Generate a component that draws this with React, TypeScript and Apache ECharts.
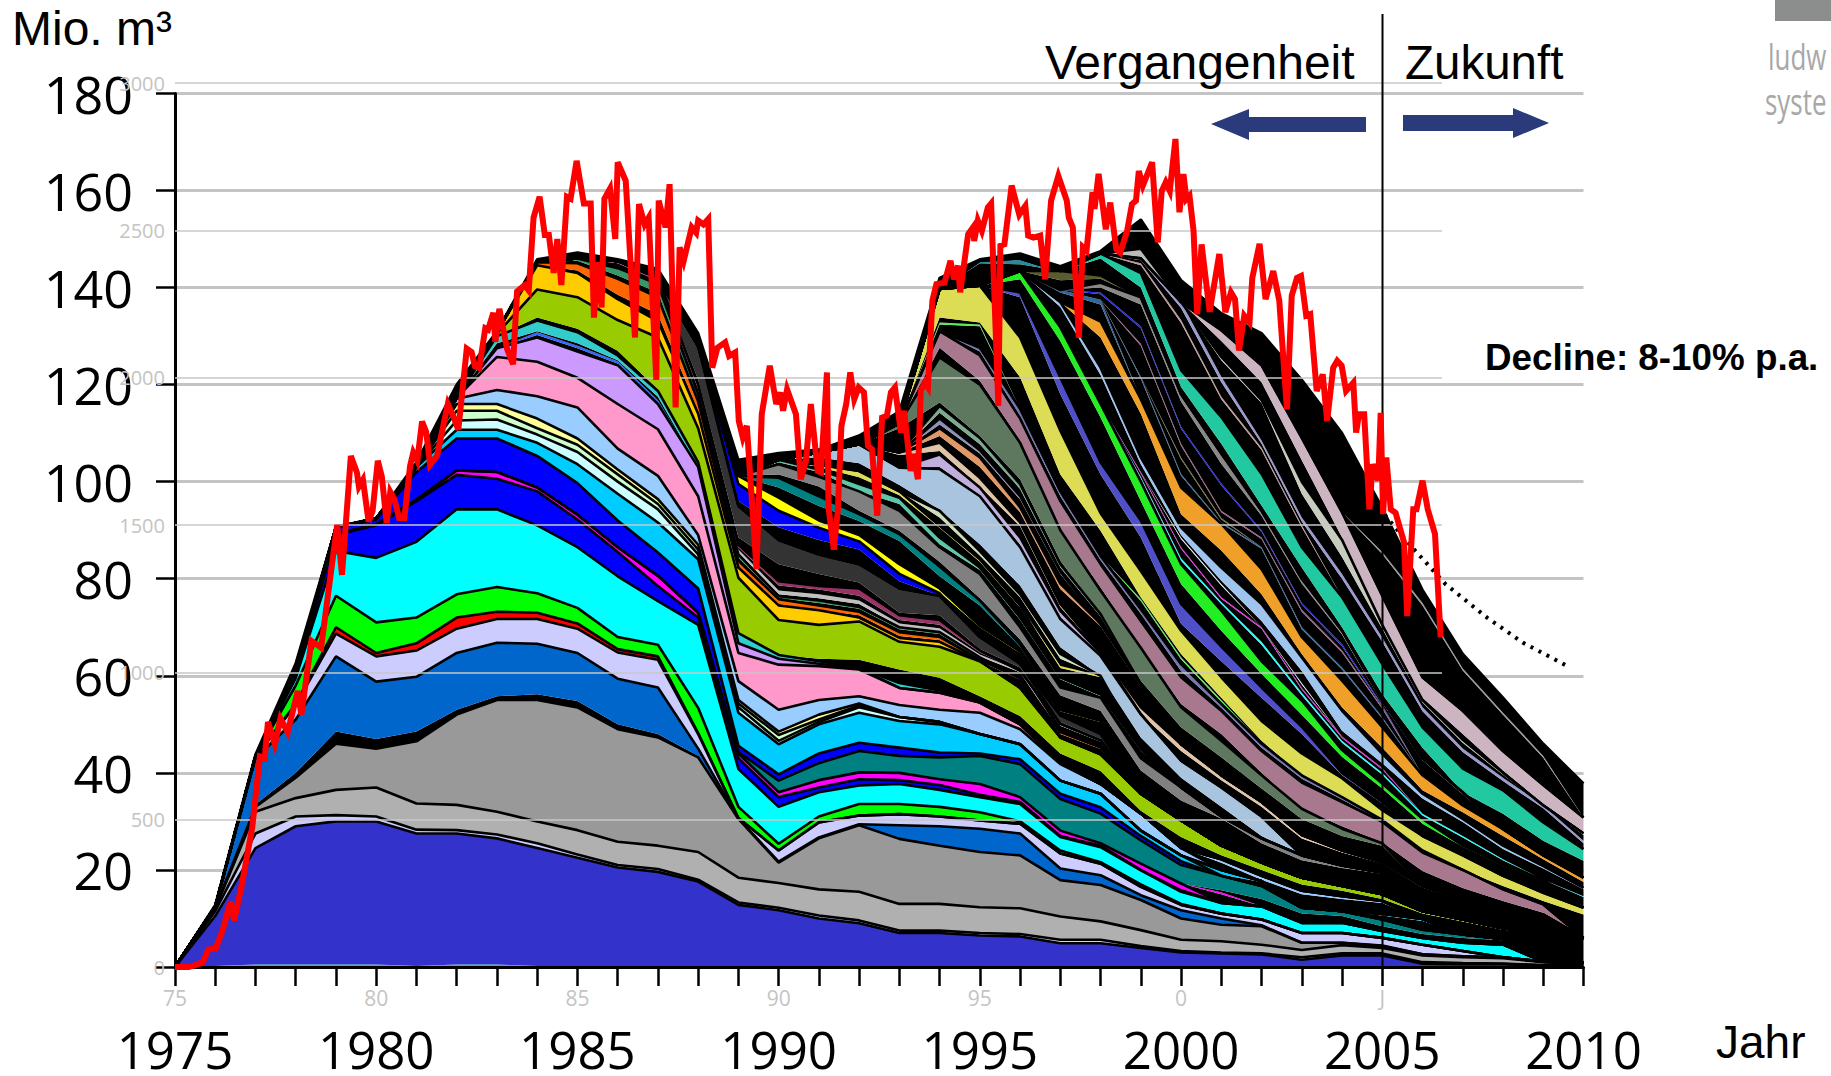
import React, { useEffect, useRef } from "react";
import * as echarts from "echarts";

const years = Array.from({ length: 36 }, (_, i) => 1975 + i);
const grayXLabels: Record<number, string> = { 1975: "75", 1980: "80", 1985: "85", 1990: "90", 1995: "95", 2000: "0", 2005: "J" };

// Upper (and where noted, lower) edges of each field in Mio. m3.
const tealBase = [0, .2, .5, .5, .5, .5, .2, .5, .5, .2];
const indigoA = [0, 10.5, 24.5, 29, 30, 30, 27.5, 27.5, 26.5, 24.5, 22.5, 20.5, 19.6, 17.6, 12.8, 11.7, 10, 9, 7, 7, 6.5, 6.3, 4.9, 4.9, 3.9, 3, 2.8, 2.6, 1.5, 2.4, 2.4, .7, .6, .6, .3, .3];
const lavThin = [0, 11.5, 27.5, 31, 31.3, 31, 28.3, 28.2, 27.3, 25.5, 23.2, 21, 20.2, 18, 13.3, 12.2, 10.6, 9.6, 7.5, 7.5, 7, 6.8, 5.6, 5.6, 4.3, 3.3, 3, 2.8, 2, 2.8, 2.8, 1, .8, .7, .4, .4];
const grayLight = [0, 12, 32, 34.8, 36.5, 37, 33.7, 33.4, 32, 30, 28.2, 25.8, 25, 23.7, 18.4, 17.3, 16, 15.5, 13, 13, 12.3, 12.1, 10.4, 9.4, 7.6, 5.6, 5.3, 4.6, 3.5, 4.5, 3.9, 2.4, 2, 1.8, 1, .8];
const grayMid = [0, 12.2, 33, 39, 46, 45, 46.5, 52, 55, 55, 53.5, 49, 47.3, 43.2, 30.5, 21.5, 26.5, 29.2, 26.4, 25, 23.7, 23, 17.9, 16.9, 13.8, 10, 8.7, 8.4, 5, 5, 4.3, 2.6, 2.2, 2, 1.1, .9];
const steelLow = [0, 12.3, 33.5, 40, 48.5, 47, 48.5, 53, 55.8, 56.2, 54.8, 50, 48, 43.5];
const steel = [0, 12.4, 43, 51, 64, 58.8, 59.8, 64.7, 66.8, 66.6, 64.7, 59.4, 57.6, 45, 30.6, 21.7, 26.7, 29.4, 29.2, 29, 28.5, 27.5, 20.3, 18.9, 14.8, 11.7, 10, 8.6, 5, 5, 4.4, 2.6, 2.2, 2, 1.1, .9];
const lavender = [0, 12.5, 43.4, 54, 68.7, 64, 65.2, 69.7, 71.7, 71.7, 69.7, 64.8, 63.3, 48, 30.7, 24, 29.8, 31.2, 31.5, 31, 30.2, 29.5, 23.4, 21.3, 16.5, 12.8, 11, 9.8, 7, 7, 6, 4.6, 3.3];
const redField = [0, 0, 0, 54.2, 70, 64.7, 66.7, 72, 73.2, 73, 70.8, 65.5, 64, 48.2];
const lime = [0, 0, 0, 58, 76.5, 71, 72, 76.8, 78.3, 77, 74, 68, 66.4, 53.4, 33, 25.4, 31, 33.6, 33.6, 33, 31.9, 30, 24, 21.6, 17, 13];
const cyanA = [0, 0, 0, 59.5, 85.7, 84.3, 87.6, 94.3, 94.3, 91, 86.5, 80.5, 75.4, 70.5, 40.8, 33, 36, 37.4, 37.7, 36.5, 35, 33.6, 26.8, 24.7, 19.9, 15.5, 13.2, 12.5, 9.1, 9.1, 7.4, 6, 5, 4.6];
const blueA = [0, 0, 0, 60, 89, 91, 96, 101.4, 100.6, 98, 92.2, 85.5, 78.5, 72, 43, 35, 37, 38.7, 38.5, 37.5, 35.5, 34, 27, 25, 20, 15.8];
const magentaA = [0, 0, 0, 60.2, 89.2, 91.2, 96.3, 102.3, 102, 98.8, 93.2, 86.5, 80.6, 73, 44, 36, 38.5, 40.1, 40, 38.7, 37.7, 35, 28.1, 25.5, 21.3, 17.2];
const magentaTail = [15.4];
const magentaTailLow = [15];
const tealA = [44.3, 38.4, 42, 44.5, 43.5, 43.2, 43.5, 41.8, 34.6, 31.6, 26.1, 21, 18.8, 16.7, 12.2, 11.5, 9.8, 7.7, 6.7, 5.8, 5];
const tealALow = [0, 0, 0, 0, 0, 0, 0, 0, 0, 0, 0, 0, 15.8, 14, 11, 10.5, 8.4, 6.8, 6, 5.5, 4.9];
const blueB = [0, 0, 0, 61.5, 90.5, 92.2, 102, 108.9, 108.9, 105.3, 99.7, 92, 85.4, 78, 45.6, 39.7, 44, 46.2, 45.2, 44.2, 44, 42.8, 35.7, 32.9, 27, 21.8];
const skyA = [0, 0, 0, 0, 90.6, 92.3, 103, 110.7, 110.7, 108, 103.6, 97.5, 91.6, 84, 52.4, 45.9, 50, 52.4, 50.7, 50, 48, 45.9, 38.4, 35.7, 28.1, 23];
const skyMid = [20, 17.7];
const skyMidLow = [19, 17.5];
const skyTail = [11, 9.9];
const skyTailLow = [10.6, 9.5];
const paleCyan = [112.6, 112.8, 109.7, 106.1, 100, 94.3, 85, 53.5, 46.6, 50.5, 53.5, 51.5, 50.5];
const paleGreen = [114.6, 114.6, 111, 107.6, 101.5, 95.4, 86, 54.3, 47.8, 51, 53.9];
const paleYellow = [116, 116, 113, 108.9, 102.5, 96.4, 87, 55, 48.5, 52, 54.3];
const lightBlueA = [0, 0, 0, 0, 90.6, 92.4, 103.2, 117.1, 118.9, 117.6, 115.3, 106.8, 101.2, 89, 58.9, 53, 55, 55.8, 54, 53, 52.4, 49, 41.8, 37.7, 31.6, 24.5];
const lightBlueTail = [22.2, 18.8, 15.7, 14.6, 13.6];
const lightBlueTailLow = [21.5, 18, 15, 14, 13.2];
const pink = [117.3, 125.7, 124.7, 121.4, 116, 110.8, 97, 64.7, 62.3, 62, 61.3, 57.5, 56.5, 54.5, 50, 42];
const violet = [127.5, 129.7, 126.8, 124, 116, 103, 66.7, 63.5, 62.5, 61.5];
const thinBlue = [130.8, 128, 124.8, 116.8];
const thinBlueLow = [130.2, 127.5, 124.3, 116.3];
const turquoise = [130, 133.2, 130.8, 126, 118.7, 104, 68.8, 64.3, 63, 61.6, 58.5, 57];
const turquoiseLow = [128.5, 131, 128.5, 125, 117.5];
const olive = [130.5, 139.6, 138, 133.3, 129.7, 111, 80.2, 71.5, 70.5, 71.2, 67, 66, 63, 57.5, 47.3, 43.8, 35.7, 30.2, 25, 21.5, 18.4, 16.7, 15, 11.5, 9.8, 8, 7, 6];
const oliveLow = [0, 133.8, 131.5, 127, 119, 104.5, 69, 64.3, 63.5, 63.3, 61.3, 59.6, 55.8, 51.7, 44, 40.4, 32.2, 26.8, 23, 20, 17, 15.7, 14, 11, 9.4, 7.7, 6.8, 5.8];
const gold = [130.8, 144.6, 143, 137.6, 133.1, 114, 82.3, 74.5, 73.5, 72, 67.8, 67];
const orangeA = [145.2, 145, 141.8, 138, 116.5, 83.7, 75.8, 74.5, 73.2, 69, 68, 63.3, 59.5];
const orangeALow = [0, 143.5, 138.5, 134.5, 114.5, 82.6, 74.8, 73.2, 72.5, 68.2, 67.3, 62.8, 59.2];
const orangeLate = [48.4, 45.2];
const orangeLateLow = [48, 44.9];
const seaGreen = [145.5, 146, 144, 140.7, 118, 85, 76.4, 75.5, 74.2, 70, 69, 63.8];
const seaGreenLow = [0, 145.5, 142.5, 139, 0, 84.3, 76, 75, 73.8, 69.6, 68.6, 63.5];
const silver = [86, 77.6, 76.8, 75.5, 70.8, 69.8, 64.4, 61];
const silverLow = [85.4, 76.8, 76, 74.8, 70.2, 69.2, 64, 60.7];
const silverLate = [50.1, 46.7];
const silverLateLow = [49.7, 46.4];
const plum = [145.5, 142, 120, 87, 79.5, 78.5, 78, 72.5, 71.5, 65.2];
const plumLow = [145, 141.4, 119, 86.5, 78.6, 77.8, 76.5, 71.5, 70.5, 64.8];
const charcoal = [128, 95, 88, 85, 83, 78, 76.5, 68, 62.5];
const charcoalLow = [121, 88.5, 83, 81, 79.2, 73, 72.5, 65.5, 61.7];
const charcoalLate = [51.8, 48];
const charcoalLateLow = [50.5, 47];
const yellowLate = [53, 50.8];
const yellowLateLow = [52.7, 50.5];
const blueC = [99.5, 94, 90.5, 87.7, 81, 77];
const blueCLow = [96, 90.6, 88, 86, 79.5, 76];
const yellow = [101.2, 96.7, 92, 89, 83, 78, 70.3, 65];
const yellowLow = [99.7, 94.2, 90.6, 87.8, 81.2, 77.2, 70, 64.7];
const tealB = [100.8, 97, 93.3, 89.2, 82.5, 75.5, 66.5];
const tealBLow = [98.8, 95, 91.9, 87.8, 80.5, 74.5, 66];
const grayDim = [103.6, 101, 98, 94, 86.5, 81, 70, 57.6, 55.5, 43, 37, 31, 26.5, 23, 20.9, 19.5];
const grayDimLow = [101.5, 99, 94, 89.9, 83.5, 76, 67.5, 56, 52.8, 40.5, 34.3, 30.6, 25.5, 22, 20.4, 19.2];
const jade = [104.5, 102.5, 99.5, 96.7, 88.5, 82.3, 72, 59.7, 56.2, 45];
const jadeLow = [104, 102, 98, 95.4, 87.1, 81.8, 71.5, 59.3, 55.8, 44.6];
const khakiThin = [103.5, 102.2, 98, 90.9, 84, 74.5];
const khakiThinLow = [103, 100.9, 97.2, 90.5, 83.5, 74.1];
const khakiLate = [62, 60];
const khakiLateLow = [61.6, 59.7];
const sage = [94, 85.7, 76.8, 64.5, 59];
const sageLow = [92.6, 84.8, 76.2, 63.5, 58.6];
const steelPale = [106, 107.7, 102.9, 102.6, 97, 86.5, 71.7, 64.1, 52.1, 42.5, 37, 31];
const steelPaleLow = [105, 103.8, 99.3, 94.2, 87.1, 78.6, 65.9, 59.2, 47.3, 39, 33, 27];
const lilac = [105.6, 98.8, 88.5, 73.4, 64.7];
const lilacLow = [103, 97.2, 87, 72, 64.4];
const tan = [106, 108, 100.8, 91.6, 74.8, 65, 53.5, 45.9, 39.5, 34, 27.2, 24, 21.6, 16.7, 14, 11.9, 10.8];
const tanLow = [105.5, 106.3, 99, 90.8, 74.2, 64.8, 51.5, 44.5, 38.5, 33, 26.5, 23.6, 21.3, 16.4, 13.8, 11.7, 10.6];
const copper = [111, 105, 94.7, 79, 70.7, 58.3];
const copperLow = [109.4, 103, 93.7, 77.9, 70.2, 57.9];
const slate = [113, 106.5, 97, 81.5];
const slateLow = [111.8, 105.8, 96.3, 81];
const mint = [115.6, 109, 99.5, 83, 72.7];
const mintLow = [114.2, 107.7, 98.5, 82.3, 72.2];
const moss = [112, 125.6, 120, 108, 90, 77.5, 65.8, 53.5, 46.6, 39.5, 32.6, 28.5, 25.5];
const mossLow = [111, 116.3, 109.4, 100.5, 83.7, 71.3, 59, 49.4, 43.2, 36.8, 30.5, 27, 25];
const mauve = [131, 126, 113, 96, 83, 71.3, 59.7, 52.8, 44.5, 38, 34, 29.9, 23.6, 20, 16, 12.9];
const mauveLow = [127.6, 120.8, 108.5, 89.2, 78.2, 65.8, 54.2, 48, 40, 32.6, 29, 25.7, 19.8, 16.3, 13.6, 11.2];
const dusk = [127.6, 115, 98, 84.7, 73.7, 62.4, 54.2, 46, 39.5, 35, 30.3, 24];
const duskLow = [126.8, 113.5, 97, 83.8, 72.8, 61, 53.4, 45.2, 38.8, 34.5, 30, 23.7];
const springThin = [132.8, 132.4];
const springThinLow = [132.4, 132];
const springLine = [75.8, 63.8, 55, 46.2];
const springLineLow = [75.4, 63.4, 54.6, 45.8];
const mustard = [139.7, 140.4, 129.7, 110.5, 93.5, 81.6, 69.3, 59.7, 50.7, 44, 38.9, 32.3, 27, 23, 18.8, 15.3, 12.2];
const mustardLow = [133.8, 132.8, 121.5, 101.5, 89.9, 76.2, 64.5, 55.5, 46.6, 39.5, 35, 30.5, 24, 20, 16.7, 13.6, 10.8];
const iris = [139, 121.5, 104, 92, 74.8, 66, 57.6, 49.5, 40, 34];
const irisLow = [138, 118, 101.5, 88.5, 70.7, 63, 55.5, 48, 39.5, 33.7];
const neon = [143.4, 131.8, 116, 100, 83, 73.4, 63, 54.9, 44.7, 37.8, 30.5, 25, 21, 18];
const neonLow = [141.7, 129, 113.2, 96, 78.9, 69.3, 60.4, 52, 43.3, 36.8, 29.5, 24.8, 20.8, 17.9];
const aquaThin = [101, 84.2, 75.2, 67, 56.5, 46.6, 40, 31.6, 27, 22.2, 18, 14.6];
const aquaThinLow = [100.6, 83.7, 74.8, 66.4, 56, 46.2, 39.6, 31.2, 26.7, 22, 17.8, 14.4];
const magentaThin = [102, 86.5, 76.2, 70, 57.5, 47.5, 41];
const magentaThinLow = [101.7, 86.2, 75.9, 69.7, 57.2, 47.2, 40.7];
const whiteThin = [88.5, 78.9, 69.6, 58.5];
const whiteThinLow = [88.2, 78.6, 69.3, 58.2];
const cornflower = [137, 123.5, 105, 90.6, 82.3, 74.8, 63.8, 52.8, 43.9, 35.7, 30.5, 25, 20.8, 16.3];
const cornflowerLow = [136, 122, 103.6, 89, 79.6, 71.3, 61, 48.7, 42, 34.7, 29.9, 24.3, 20.3, 16];
const amber = [133, 117, 98.8, 91.3, 82, 68, 59, 49.4, 39.5, 33.3, 28.4, 23, 18.4];
const amberLow = [129.7, 114, 93.3, 85.8, 76.8, 64.5, 53.5, 45.2, 36.4, 31.9, 27, 22.2, 17.5];
const denim = [139.5, 137.5];
const denimLow = [139, 136.5];
const denimThin = [121.6, 101.6, 91.6, 86.5, 70, 61.7, 51.5];
const denimThinLow = [121.2, 101.2, 91.4, 86.2, 69.6, 61.3, 51.2];
const oliveThin = [105, 92.5];
const oliveThinLow = [104.6, 92.2];
const plumThin = [128.4, 107.8, 94, 88.5, 73.6, 65.2, 53.5];
const plumThinLow = [128, 107.4, 93.7, 88.2, 73.2, 64.8, 53.2];
const blueThin = [139, 132, 111.3, 99.6, 90, 75, 66.5, 54];
const blueThinLow = [138.6, 131.6, 110.9, 99.2, 89.7, 74.7, 66.1, 53.7];
const grayLine = [141, 138, 118, 105.8, 94, 80, 69.3, 54.9, 43, 36];
const grayLineLow = [140, 136.5, 116.5, 103.7, 93, 79, 68.5, 54.4, 42.6, 35.6];
const darkKhaki = [143.4, 142.5];
const darkKhakiLow = [141.5, 141.8];
const petrol = [145.6, 146];
const petrolLow = [145, 144.8];
const emerald = [147, 143, 123, 113.3, 101.6, 86.5, 76.2, 62.4, 49.4, 40.9, 36.4, 29.8, 24.3];
const emeraldLow = [146, 140, 119.5, 107.8, 95.1, 82.3, 70, 56.2, 45.2, 36, 31.6, 26, 21.9];
const rosewood = [145, 133.3, 117.5, 107, 91];
const rosewoodLow = [144.6, 132.7, 117, 106.5, 90.6];
const periwinkle = [146, 137, 121.6, 108.5, 92.6, 81, 67.9, 53.5, 45, 39, 33.3, 26];
const periwinkleLow = [145.6, 135.8, 120.5, 107.8, 91.8, 80, 67, 52.7, 44.3, 38.3, 32.7, 25.5];
const ash = [125.7, 116.8, 100, 88, 70.5, 55, 46.8, 40, 33, 27.5];
const ashLow = [125, 116.2, 97.5, 84.5, 69.7, 54.5, 46.2, 39.6, 32.6, 27.2];
const dustyRose = [136, 131.2, 124, 109, 93.7, 76.5, 59.7, 52.8, 44.5, 37.5, 30.8];
const dustyRoseLow = [134, 129, 120.5, 104.4, 88.5, 70.7, 55.5, 48, 40.5, 33.7, 27.9];
const cloud = [148];
const cloudLow = [145.5];
const topGray = [85.5, 75, 61.5, 52.4, 43.5];
const topGrayLow = [85.1, 74.5, 61.1, 52, 43.1];
const envelope = [0, 12.8, 43.8, 62.6, 90.7, 92.5, 104, 120, 131, 145.8, 147.2, 145.8, 143.8, 130.6, 104.5, 105.9, 106.6, 109.5, 114.5, 142, 145.8, 147, 144.4, 147.5, 154, 141.5, 134.7, 130.6, 121, 110, 94.6, 77.7, 64.5, 55.5, 46, 37.8];

const redLine: [number, number][] = [[1975, 0], [1975.34, 0], [1975.54, .5], [1975.69, 1], [1975.83, 3.6], [1976.01, 3.8], [1976.18, 7.5], [1976.38, 13.5], [1976.47, 9.6], [1976.67, 17.4], [1976.92, 28.8], [1977.11, 43.4], [1977.23, 43.1], [1977.31, 50.5], [1977.48, 45.9], [1977.62, 51.2], [1977.8, 48.4], [1978.05, 56.9], [1978.14, 52], [1978.39, 67.2], [1978.63, 65.8], [1979.03, 91.1], [1979.15, 80.8], [1979.37, 105.3], [1979.52, 101.9], [1979.57, 99], [1979.67, 100.4], [1979.81, 91.8], [1979.91, 94], [1980.04, 104.3], [1980.14, 101], [1980.26, 91.5], [1980.35, 97.9], [1980.45, 96.4], [1980.57, 92.5], [1980.7, 92.5], [1980.84, 103.2], [1980.92, 106], [1981.02, 104.3], [1981.14, 112.4], [1981.24, 110.3], [1981.34, 103.5], [1981.51, 105.3], [1981.78, 116], [1981.93, 113.2], [1982.04, 110.7], [1982.25, 127.4], [1982.37, 126.7], [1982.45, 123.8], [1982.56, 123.4], [1982.71, 131.6], [1982.78, 131.3], [1982.91, 134.8], [1982.96, 128.8], [1983.06, 135.6], [1983.25, 127.4], [1983.4, 124.2], [1983.5, 139.2], [1983.69, 140.5], [1983.79, 139.4], [1983.91, 154.4], [1984.06, 158.7], [1984.19, 150.8], [1984.29, 150.8], [1984.41, 143], [1984.5, 150], [1984.6, 140.5], [1984.74, 158.7], [1984.83, 158.3], [1984.98, 166.1], [1985.16, 157.3], [1985.33, 157.3], [1985.41, 133.8], [1985.52, 145.2], [1985.6, 135.9], [1985.67, 158.3], [1985.81, 160.4], [1985.94, 150], [1986, 165.8], [1986.2, 162], [1986.43, 129.7], [1986.53, 157.2], [1986.67, 153], [1986.77, 154.4], [1986.96, 121], [1987.02, 157.9], [1987.19, 152.4], [1987.29, 161.3], [1987.44, 115.3], [1987.54, 148.3], [1987.64, 145.5], [1987.84, 152.4], [1987.95, 151.3], [1988, 153.8], [1988.13, 153], [1988.25, 154.1], [1988.35, 123.5], [1988.48, 127.6], [1988.67, 128.7], [1988.77, 125.9], [1988.92, 126.6], [1989.01, 112.5], [1989.11, 109.1], [1989.21, 111.5], [1989.45, 82], [1989.58, 113.9], [1989.78, 123.9], [1989.94, 116], [1990.04, 118.4], [1990.11, 114.6], [1990.21, 119], [1990.43, 113.9], [1990.55, 100.5], [1990.68, 104.3], [1990.8, 116], [1990.97, 102.2], [1991.05, 101.9], [1991.2, 122.5], [1991.24, 94.7], [1991.37, 86], [1991.47, 94], [1991.56, 111.5], [1991.68, 116], [1991.78, 122.5], [1991.88, 117], [1991.99, 119.4], [1992.12, 118.4], [1992.22, 107.4], [1992.32, 106.7], [1992.45, 93], [1992.57, 113.2], [1992.69, 113.6], [1992.79, 118.4], [1992.89, 119.4], [1993.04, 110.1], [1993.12, 114.6], [1993.28, 102.2], [1993.35, 105.7], [1993.46, 100.5], [1993.53, 118.7], [1993.63, 120.4], [1993.71, 119.4], [1993.82, 137.3], [1993.92, 140.7], [1994.12, 141], [1994.27, 145.5], [1994.36, 141.7], [1994.46, 144.5], [1994.51, 139], [1994.71, 151], [1994.83, 152.4], [1994.86, 149.6], [1994.95, 153.8], [1995.05, 151.7], [1995.2, 156.5], [1995.28, 157.3], [1995.46, 115.6], [1995.51, 148.6], [1995.61, 148.9], [1995.79, 161], [1995.98, 155], [1996.13, 156.8], [1996.2, 150.7], [1996.33, 150.3], [1996.5, 150.7], [1996.62, 141.7], [1996.77, 157.9], [1996.95, 163], [1997.16, 157.9], [1997.21, 154.4], [1997.31, 152.4], [1997.46, 129.7], [1997.56, 148.3], [1997.65, 147.6], [1997.8, 159.6], [1997.85, 156.2], [1997.95, 163.4], [1998.13, 152], [1998.24, 157.5], [1998.39, 147.9], [1998.49, 147.2], [1998.66, 151.7], [1998.78, 157.2], [1998.88, 157.9], [1998.95, 164], [1999.05, 161], [1999.28, 165.8], [1999.42, 149.3], [1999.52, 159.9], [1999.62, 161.7], [1999.72, 159.9], [1999.86, 170.6], [1999.96, 155.5], [2000.06, 163.4], [2000.13, 158.2], [2000.21, 158.9], [2000.31, 151.7], [2000.4, 134.5], [2000.51, 148.9], [2000.71, 135], [2000.95, 146.9], [2001.1, 134.9], [2001.24, 139], [2001.34, 137.6], [2001.44, 127], [2001.57, 134.2], [2001.7, 132.8], [2001.77, 142], [2001.95, 149], [2002.1, 137.6], [2002.29, 143.4], [2002.44, 137.3], [2002.63, 114.9], [2002.75, 138.3], [2002.88, 142], [2002.98, 142.4], [2003.11, 134.2], [2003.21, 134.5], [2003.37, 118.7], [2003.52, 122.1], [2003.63, 112.5], [2003.78, 123.5], [2003.88, 124.9], [2003.99, 123.9], [2004.1, 118.7], [2004.28, 120.4], [2004.35, 110.1], [2004.42, 113.9], [2004.55, 113.9], [2004.68, 94.3], [2004.76, 103.6], [2004.9, 100.2], [2004.96, 114.2], [2005.02, 93.3], [2005.1, 105], [2005.21, 94.3], [2005.33, 93.6], [2005.54, 87.5], [2005.62, 72.3], [2005.77, 94.3], [2005.85, 94.3], [2006, 100.2], [2006.13, 94.3], [2006.31, 89.2], [2006.45, 67.9]];
const declineLine: [number, number][] = [[2004.77, 96], [2005.75, 86.4], [2006.57, 78.9], [2007.6, 72], [2008.5, 66.8], [2009.6, 62]];

type Field = { color: string; from: number; top: number[]; low?: number[] };
const BLACK = "#000000";
const fields: Field[] = [
  { color: "#1FC8A0", from: 1975, top: tealBase },
  { color: "#3333CC", from: 1975, top: indigoA },
  { color: "#CCCCFF", from: 1975, top: lavThin },
  { color: "#B0B0B0", from: 1975, top: grayLight },
  { color: "#999999", from: 1975, top: grayMid },
  { color: "#0066CC", from: 1975, top: steel, low: steelLow },
  { color: "#CCCCFF", from: 1975, top: lavender },
  { color: "#FF0000", from: 1975, top: redField },
  { color: "#00FF00", from: 1975, top: lime },
  { color: "#00FFFF", from: 1975, top: cyanA },
  { color: "#0000FF", from: 1975, top: blueA },
  { color: "#FF00FF", from: 1975, top: magentaA },
  { color: "#FF00FF", from: 2001, top: magentaTail, low: magentaTailLow },
  { color: "#008080", from: 1989, top: tealA, low: tealALow },
  { color: "#0000FF", from: 1975, top: blueB },
  { color: "#00CCFF", from: 1975, top: skyA },
  { color: "#00CCFF", from: 2001, top: skyMid, low: skyMidLow },
  { color: "#00CCFF", from: 2005, top: skyTail, low: skyTailLow },
  { color: "#CCFFFF", from: 1982, top: paleCyan },
  { color: "#CCFFCC", from: 1982, top: paleGreen },
  { color: "#FFFF99", from: 1982, top: paleYellow },
  { color: "#99CCFF", from: 1975, top: lightBlueA },
  { color: "#99CCFF", from: 2001, top: lightBlueTail, low: lightBlueTailLow },
  { color: "#FF99CC", from: 1982, top: pink },
  { color: "#CC99FF", from: 1983, top: violet },
  { color: "#3366FF", from: 1984, top: thinBlue, low: thinBlueLow },
  { color: "#33CCCC", from: 1983, top: turquoise, low: turquoiseLow },
  { color: "#99CC00", from: 1983, top: olive, low: oliveLow },
  { color: "#FFCC00", from: 1983, top: gold },
  { color: "#FF6600", from: 1984, top: orangeA, low: orangeALow },
  { color: "#FF6600", from: 1997, top: orangeLate, low: orangeLateLow },
  { color: "#339966", from: 1984, top: seaGreen, low: seaGreenLow },
  { color: "#C0C0C0", from: 1989, top: silver, low: silverLow },
  { color: "#C0C0C0", from: 1997, top: silverLate, low: silverLateLow },
  { color: "#993366", from: 1986, top: plum, low: plumLow },
  { color: "#333333", from: 1988, top: charcoal, low: charcoalLow },
  { color: "#333333", from: 1997, top: charcoalLate, low: charcoalLateLow },
  { color: "#FFFF00", from: 1997, top: yellowLate, low: yellowLateLow },
  { color: "#0000FF", from: 1989, top: blueC, low: blueCLow },
  { color: "#FFFF00", from: 1989, top: yellow, low: yellowLow },
  { color: "#008080", from: 1990, top: tealB, low: tealBLow },
  { color: "#808080", from: 1990, top: grayDim, low: grayDimLow },
  { color: "#5CC6A8", from: 1990, top: jade, low: jadeLow },
  { color: "#DDDD55", from: 1991, top: khakiThin, low: khakiThinLow },
  { color: "#DDDD55", from: 1997, top: khakiLate, low: khakiLateLow },
  { color: "#CCDDBB", from: 1994, top: sage, low: sageLow },
  { color: "#A8C4DE", from: 1991, top: steelPale, low: steelPaleLow },
  { color: "#C0AEDC", from: 1994, top: lilac, low: lilacLow },
  { color: "#E0C4A8", from: 1993, top: tan, low: tanLow },
  { color: "#E09868", from: 1994, top: copper, low: copperLow },
  { color: "#8F8FB8", from: 1994, top: slate, low: slateLow },
  { color: "#7CAA90", from: 1994, top: mint, low: mintLow },
  { color: "#5E7860", from: 1993, top: moss, low: mossLow },
  { color: "#A8788F", from: 1994, top: mauve, low: mauveLow },
  { color: "#7474B0", from: 1995, top: dusk, low: duskLow },
  { color: "#55EE55", from: 1994, top: springThin, low: springThinLow },
  { color: "#55EE55", from: 1999, top: springLine, low: springLineLow },
  { color: "#DDDD55", from: 1994, top: mustard, low: mustardLow },
  { color: "#4F4FC8", from: 1996, top: iris, low: irisLow },
  { color: "#22EE22", from: 1996, top: neon, low: neonLow },
  { color: "#22FFFF", from: 1999, top: aquaThin, low: aquaThinLow },
  { color: "#EE22EE", from: 1999, top: magentaThin, low: magentaThinLow },
  { color: "#DDEEFF", from: 2000, top: whiteThin, low: whiteThinLow },
  { color: "#9FC4EE", from: 1997, top: cornflower, low: cornflowerLow },
  { color: "#F0A028", from: 1998, top: amber, low: amberLow },
  { color: "#336699", from: 1997, top: denim, low: denimLow },
  { color: "#336699", from: 1999, top: denimThin, low: denimThinLow },
  { color: "#6B6B30", from: 2000, top: oliveThin, low: oliveThinLow },
  { color: "#A05A80", from: 1999, top: plumThin, low: plumThinLow },
  { color: "#2222EE", from: 1998, top: blueThin, low: blueThinLow },
  { color: "#888888", from: 1998, top: grayLine, low: grayLineLow },
  { color: "#5B5B30", from: 1997, top: darkKhaki, low: darkKhakiLow },
  { color: "#2A8A96", from: 1995, top: petrol, low: petrolLow },
  { color: "#22C9A0", from: 1998, top: emerald, low: emeraldLow },
  { color: "#C09898", from: 1999, top: rosewood, low: rosewoodLow },
  { color: "#9A9AD0", from: 1999, top: periwinkle, low: periwinkleLow },
  { color: "#C7CCBF", from: 2001, top: ash, low: ashLow },
  { color: "#CCB5C0", from: 2000, top: dustyRose, low: dustyRoseLow },
  { color: "#BBBBBB", from: 1999, top: cloud, low: cloudLow },
  { color: "#999999", from: 2005, top: topGray, low: topGrayLow },
  { color: BLACK, from: 1975, top: envelope },
];

function buildStackSeries() {
  const cum = years.map(() => 0);
  const out: any[] = [];
  const push = (name: string, color: string, vals: number[], kind: "gap" | "thin" | "fat") => {
    out.push({
      name,
      type: "line",
      stack: "fields",
      xAxisIndex: 0,
      yAxisIndex: 0,
      symbol: "none",
      silent: true,
      z: 2,
      // a stack has no holes, so a thin stripe or a black filler gets no outline: it would run on for every year
      lineStyle: kind === "fat" ? { color: BLACK, width: 2.6, join: "bevel" } : { width: 0, opacity: 0 },
      areaStyle: { color, opacity: 1 },
      data: vals.map((v) => Math.round(v * 100) / 100),
    });
  };
  fields.forEach((f, k) => {
    const gaps = years.map(() => 0);
    const fills = years.map(() => 0);
    years.forEach((y, i) => {
      const j = y - f.from;
      const top = j >= 0 && j < f.top.length ? f.top[j] : 0;
      const low = f.low && j >= 0 && j < f.low.length ? f.low[j] : 0;
      const base = Math.max(cum[i], low);
      const next = Math.max(base, top);
      gaps[i] = base - cum[i];
      fills[i] = next - base;
      cum[i] = next;
    });
    if (gaps.some((g) => g > 0)) push("gap" + k, BLACK, gaps, "gap");
    const thin = Math.max(...fills) < 1.2 && f.color !== BLACK;
    push("field" + k, f.color, fills, thin ? "thin" : "fat");
  });
  return out;
}

const SANS = "Liberation Sans, Arial, sans-serif";
const TICKFONT = "Open Sans, sans-serif";

export default function App() {
  const ref = useRef<HTMLDivElement>(null);
  useEffect(() => {
    const chart = echarts.init(ref.current!, undefined, { renderer: "svg" });
    const text = (t: string, x: number, y: number, size: number, extra: any = {}) => ({
      type: "text",
      x,
      y,
      z: 12,
      style: { text: t, fontSize: size, fontFamily: SANS, fill: "#000", textVerticalAlign: "middle", ...extra.style },
      ...extra.el,
    });
    chart.setOption({
      animation: false,
      backgroundColor: "#fff",
      grid: [
        { left: 175, top: 93.4, width: 1408.5, height: 873.6 },
        { left: 175, top: 83, width: 1267, height: 884 },
      ],
      xAxis: [
        {
          type: "category", gridIndex: 0, position: "bottom", boundaryGap: false, data: years.map(String), z: 6,
          axisLine: { lineStyle: { color: "#000", width: 3 } },
          axisTick: { interval: 0, alignWithLabel: true, length: 19, lineStyle: { color: "#000", width: 2.5 } },
          axisLabel: { interval: 0, margin: 56, fontSize: 51, color: "#000", fontFamily: TICKFONT, formatter: (v: string) => (Number(v) % 5 === 0 ? v : "") },
          splitLine: { show: false },
        },
        {
          type: "value", gridIndex: 0, position: "bottom", min: 1975, max: 2010, interval: 5,
          axisLine: { show: false }, axisTick: { show: false },
          axisLabel: { margin: 20, fontSize: 21, color: "#C4C4C4", fontFamily: TICKFONT, formatter: (v: number) => grayXLabels[v] ?? "" },
          splitLine: { show: false },
        },
        { type: "value", gridIndex: 1, min: 0, max: 1, show: false },
      ],
      yAxis: [
        {
          type: "value", gridIndex: 0, min: 0, max: 180, interval: 20,
          axisLine: { show: true, lineStyle: { color: "#000", width: 3 } },
          axisTick: { show: true, length: 19, lineStyle: { color: "#000", width: 2.5 } },
          axisLabel: { margin: 42, fontSize: 52, color: "#000", fontFamily: TICKFONT, formatter: (v: number) => (v === 0 ? "" : String(v)) },
          splitLine: { show: true, lineStyle: { color: "#C4C4C4", width: 3 } },
        },
        {
          type: "value", gridIndex: 1, min: 0, max: 3000, interval: 500, z: 4,
          axisLine: { show: false }, axisTick: { show: false },
          axisLabel: { margin: 10, fontSize: 20, color: "#C4C4C4", fontFamily: TICKFONT, formatter: (v: number) => String(v) },
          splitLine: { show: true, lineStyle: { color: "#C8C8C8", width: 1.6 } },
        },
      ],
      series: [
        ...buildStackSeries(),
        {
          name: "Decline", type: "line", xAxisIndex: 1, yAxisIndex: 0, symbol: "none", z: 8, silent: true,
          lineStyle: { color: "#000", width: 4, type: [3, 6] }, data: declineLine,
        },
        {
          name: "Produktion", type: "line", xAxisIndex: 1, yAxisIndex: 0, symbol: "none", z: 10, silent: true,
          lineStyle: { color: "#FF0000", width: 6, join: "miter" }, data: redLine,
        },
      ],
      graphic: [
        { type: "rect", z: 12, shape: { x: 1775, y: 0, width: 56, height: 21 }, style: { fill: "#8C8E8D" } },
        { type: "line", z: 5, shape: { x1: 1382.5, y1: 14, x2: 1382.5, y2: 967 }, style: { stroke: "#000", lineWidth: 2 } },
        { type: "polygon", z: 12, shape: { points: [[1366, 117], [1249, 117], [1249, 109], [1211, 124], [1249, 140], [1249, 132], [1366, 132]] }, style: { fill: "#2A3A7A" } },
        { type: "polygon", z: 12, shape: { points: [[1403, 115], [1513, 115], [1513, 108], [1549, 123], [1513, 138], [1513, 131], [1403, 131]] }, style: { fill: "#2A3A7A" } },
        text("Mio. m³", 12, 28, 48),
        text("Vergangenheit", 1045, 62, 48),
        text("Zukunft", 1405, 62, 47.5),
        text("Decline: 8-10% p.a.", 1485, 357, 36.8, { style: { fontWeight: "bold" } }),
        text("Jahr", 1716, 1042, 46),
        { type: "text", x: 1768, y: 56, z: 12, scaleX: 0.72, style: { text: "ludw", fontSize: 36, fontFamily: TICKFONT, fill: "#A8A8A8", textVerticalAlign: "middle" } },
        { type: "text", x: 1765, y: 101, z: 12, scaleX: 0.72, style: { text: "syste", fontSize: 36, fontFamily: TICKFONT, fill: "#A8A8A8", textVerticalAlign: "middle" } },
      ],
    });
    return () => chart.dispose();
  }, []);
  return <div ref={ref} style={{ position: "fixed", left: 0, top: 0, width: 1831, height: 1076, overflow: "hidden" }} />;
}
